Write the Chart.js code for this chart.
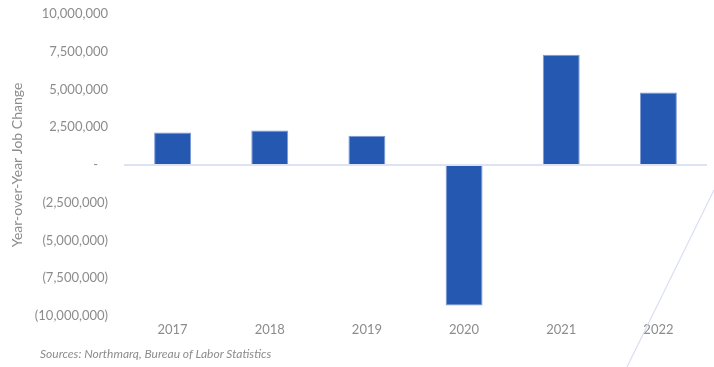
<!DOCTYPE html>
<html>
<head>
<meta charset="utf-8">
<script src="https://cdn.jsdelivr.net/npm/chart.js@4"></script>
<style>
    html, body { margin: 0; padding: 0; background: #fff; }
    #wrap { position: relative; width: 714px; height: 367px; }
    #source {
        position: absolute; left: 40px; top: 346px;
        font: italic 12px Lato, sans-serif; color: #8c8c8c;
    }
</style>
</head>
<body>
<div id="wrap">
    <canvas id="jobs" width="714" height="367"></canvas>
    <div id="source">Sources: Northmarq, Bureau of Labor Statistics</div>
</div>
<script>
// --- Data ---
const years = ['2017', '2018', '2019', '2020', '2021', '2022'];
const jobChange = [2150000, 2280000, 1930000, -9300000, 7300000, 4800000];
const yTicks = [-10000000, -7500000, -5000000, -2500000, 0, 2500000, 5000000, 7500000, 10000000];

const GREY = '#8c8c8c';
const FONT = 'Lato, sans-serif';

// accounting style: negatives in parentheses, zero as a dash
const fmt = (v) => {
    if (v === 0) return '-   ';
    const s = Math.abs(v).toLocaleString('en-US');
    return v < 0 ? `(${s})` : s;
};

// thin decorative slash in the lower right corner
const slash = {
    id: 'slash',
    afterDraw: (chart) => {
        const ctx = chart.ctx;
        ctx.save();
        ctx.strokeStyle = '#d9ddf4';
        ctx.lineWidth = 1.2;
        ctx.beginPath();
        ctx.moveTo(714, 190);
        ctx.lineTo(627, 367);
        ctx.stroke();
        ctx.restore();
    }
};

new Chart(document.getElementById('jobs'), {
    type: 'bar',
    data: {
        labels: years,
        datasets: [{
            data: jobChange,
            backgroundColor: '#2559b1',
            borderColor: '#7d9ad6',
            borderWidth: 1,
            categoryPercentage: 1,
            barPercentage: 0.38
        }]
    },
    options: {
        responsive: false,
        animation: false,
        layout: { padding: { top: 14, right: 7, bottom: 28, left: 0 } },
        plugins: { legend: { display: false }, tooltip: { enabled: false } },
        scales: {
            x: {
                grid: { display: false, drawTicks: false },
                border: { display: false },
                ticks: { color: GREY, font: { family: FONT, size: 13 }, padding: 6 },
                afterFit: (s) => { s.height = 23; s.paddingLeft = 0; s.paddingRight = 0; }
            },
            y: {
                min: -10000000,
                max: 10000000,
                afterBuildTicks: (s) => { s.ticks = yTicks.map(v => ({ value: v })); },
                afterFit: (s) => { s.width = 124; s.paddingTop = 0; s.paddingBottom = 0; },
                grid: {
                    drawTicks: false,
                    color: (c) => c.tick && c.tick.value === 0 ? '#dde3f3' : 'transparent',
                    lineWidth: 2
                },
                border: { display: false },
                ticks: {
                    color: GREY,
                    font: { family: FONT, size: 13 },
                    padding: 16,
                    callback: (v) => fmt(v)
                },
                title: {
                    display: true,
                    text: 'Year-over-Year Job Change',
                    color: GREY,
                    font: { family: FONT, size: 14 },
                    padding: { top: 9, bottom: 0 }
                }
            }
        }
    },
    plugins: [slash]
});
</script>
</body>
</html>
